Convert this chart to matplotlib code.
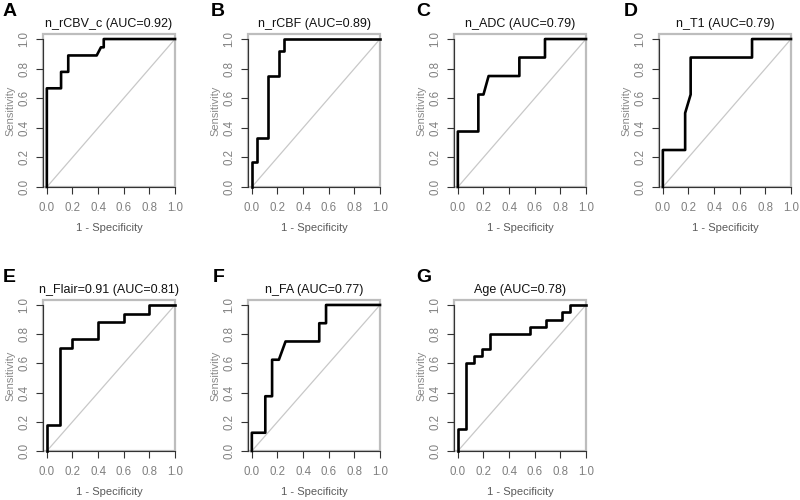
import matplotlib
matplotlib.use("Agg")
import matplotlib.pyplot as plt
from matplotlib.patches import Rectangle

letters = ["A", "B", "C", "D", "E", "F", "G"]
titles = ["n_rCBV_c (AUC=0.92)", "n_rCBF (AUC=0.89)", "n_ADC (AUC=0.79)",
          "n_T1 (AUC=0.79)", "n_Flair=0.91 (AUC=0.81)", "n_FA (AUC=0.77)",
          "Age (AUC=0.78)"]

fpr_A = [0, 0, 0.111, 0.111, 0.167, 0.167, 0.389, 0.422, 0.444, 0.444, 1.0]
tpr_A = [0, 0.667, 0.667, 0.778, 0.778, 0.889, 0.889, 0.944, 0.944, 1.0, 1.0]

fpr_B = [0, 0, 0.042, 0.042, 0.125, 0.125, 0.208, 0.208, 0.25, 0.25, 1.0]
tpr_B = [0, 0.167, 0.167, 0.333, 0.333, 0.75, 0.75, 0.917, 0.917, 1.0, 1.0]

fpr_C = [0, 0, 0.16, 0.16, 0.2, 0.24, 0.48, 0.48, 0.68, 0.68, 1.0]
tpr_C = [0, 0.375, 0.375, 0.625, 0.625, 0.75, 0.75, 0.875, 0.875, 1.0, 1.0]

fpr_D = [0, 0, 0.174, 0.174, 0.217, 0.217, 0.696, 0.696, 1.0]
tpr_D = [0, 0.25, 0.25, 0.5, 0.625, 0.875, 0.875, 1.0, 1.0]

fpr_E = [0, 0, 0.1, 0.1, 0.2, 0.2, 0.4, 0.4, 0.6, 0.6, 0.8, 0.8, 1.0]
tpr_E = [0, 0.176, 0.176, 0.706, 0.706, 0.765, 0.765, 0.882, 0.882, 0.941, 0.941, 1.0, 1.0]

fpr_F = [0, 0, 0.105, 0.105, 0.158, 0.158, 0.211, 0.263, 0.526, 0.526, 0.579, 0.579, 1.0]
tpr_F = [0, 0.125, 0.125, 0.375, 0.375, 0.625, 0.625, 0.75, 0.75, 0.875, 0.875, 1.0, 1.0]

fpr_G = [0, 0, 0.0625, 0.0625, 0.125, 0.125, 0.1875, 0.1875, 0.25, 0.25, 0.5625, 0.5625,
         0.6875, 0.6875, 0.8125, 0.8125, 0.875, 0.875, 1.0]
tpr_G = [0, 0.15, 0.15, 0.6, 0.6, 0.65, 0.65, 0.7, 0.7, 0.8, 0.8, 0.85, 0.85, 0.9, 0.9,
         0.95, 0.95, 1.0, 1.0]

curves = [(fpr_A, tpr_A), (fpr_B, tpr_B), (fpr_C, tpr_C), (fpr_D, tpr_D),
          (fpr_E, tpr_E), (fpr_F, tpr_F), (fpr_G, tpr_G)]
ticks = [0.0, 0.2, 0.4, 0.6, 0.8, 1.0]
tick_labels = ["0.0", "0.2", "0.4", "0.6", "0.8", "1.0"]

plt.rcParams['font.family'] = ['Liberation Sans', 'DejaVu Sans']

fig = plt.figure(figsize=(8, 5), dpi=100)
W, H = 800, 500
lefts = [43, 248, 454, 659]
rows = [(34, 187), (300, 451)]
aw = 132

for i, (fx, ty) in enumerate(curves):
    r, c = divmod(i, 4)
    top, bot = rows[r]
    ax = fig.add_axes([lefts[c] / W, 1 - bot / H, aw / W, (bot - top) / H])
    ax.set_xlim(-0.03, 1.0)
    ax.set_ylim(0.0, 1.034)
    ax.plot([0, 1], [0, 1], color="#c8c8c8", lw=0.9, zorder=2)
    ax.plot(fx, ty, color="black", lw=1.9, zorder=3, clip_on=False)
    for s in ["top", "right"]:
        ax.spines[s].set_visible(False)
    ax.spines["left"].set_bounds(0, 1)
    ax.spines["bottom"].set_bounds(0, 1)
    ax.spines["left"].set_color("#333333")
    ax.spines["bottom"].set_color("#333333")
    ax.add_patch(Rectangle((0, 0), 1, 1, transform=ax.transAxes, fill=False,
                           edgecolor="#bdbdbd", lw=1.6, zorder=1, clip_on=False))
    ax.set_xticks(ticks)
    ax.set_xticklabels(tick_labels)
    ax.set_yticks(ticks)
    ax.set_yticklabels(tick_labels, rotation=90, va="center")
    ax.tick_params(axis="both", colors="#333333", labelcolor="#808080",
                   labelsize=8.3, length=5, width=0.8)
    ax.tick_params(axis="x", pad=6)
    ax.tick_params(axis="y", pad=4)
    ax.set_xlabel("1 - Specificity", fontsize=8, color="#5a5a5a", labelpad=6)
    ax.set_ylabel("Sensitivity", fontsize=8, color="#8a8a8a", labelpad=2)
    ax.set_title(titles[i], fontsize=9, color="#111111", pad=5)

letter_pos = [(3, 12), (211, 12), (416, 12), (624, 12), (3, 278), (213, 277), (416, 277)]
for L, (x, y) in zip(letters, letter_pos):
    fig.text(x / W, 1 - y / H, L, fontsize=14, fontweight="bold", va="center", ha="left")

fig.savefig("out.png", dpi=100)
